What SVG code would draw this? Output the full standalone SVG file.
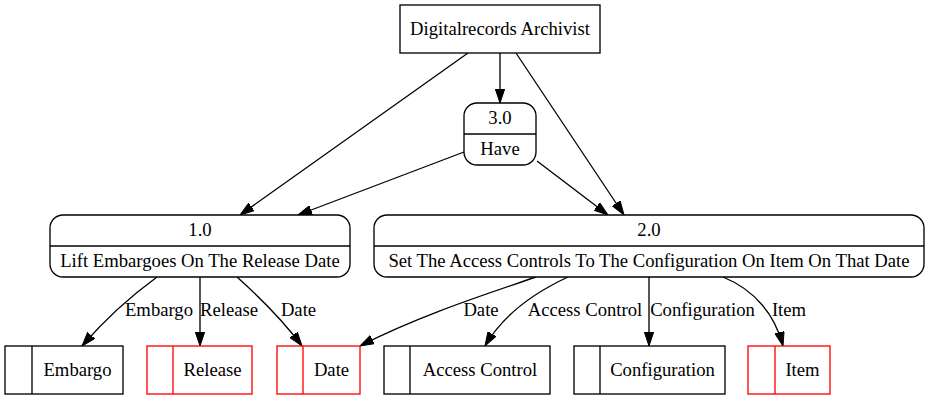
<svg xmlns="http://www.w3.org/2000/svg" width="930" height="400" viewBox="0 0 930 400">
<style>
text { font-family: "Liberation Serif", "Times New Roman", serif; font-size: 18.67px; text-anchor: middle; fill: #000; }
.n { fill: #fff; stroke: #000; stroke-width: 1.33; }
.r { fill: #fff; stroke: #ff0000; stroke-width: 1.33; }
.e { fill: none; stroke: #000; stroke-width: 1.33; marker-end: url(#arr); }
</style>
<defs>
<marker id="arr" markerUnits="userSpaceOnUse" viewBox="0 0 14 10" refX="14" refY="5" markerWidth="14" markerHeight="10" orient="auto">
<path d="M0,0.3 L14,5 L0,9.7 Z" fill="#000" stroke="#000" stroke-width="1"/>
</marker>
</defs>
<rect width="930" height="400" fill="#fff"/>
<g id="connectors">
<path class="e" d="M468,53 L240,215"/>
<path class="e" d="M500,53 L500,103"/>
<path class="e" d="M516,53 L624,215"/>
<path class="e" d="M464,152 L298,215"/>
<path class="e" d="M537,161 L608,215"/>
<path class="e" d="M157,277 C135,293 108,316 82,346"/>
<path class="e" d="M200,277 L200,346"/>
<path class="e" d="M237,277 C256,294 281,318 302,346"/>
<path class="e" d="M536,277 C490,293 420,315 360,346"/>
<path class="e" d="M568,277 C525,297 500,320 485,346"/>
<path class="e" d="M649,277 L649,346"/>
<path class="e" d="M723,277 C755,290 775,315 783,346"/>
<text x="159" y="316">Embargo</text>
<text x="229" y="316">Release</text>
<text x="298.5" y="316">Date</text>
<text x="481" y="316">Date</text>
<text x="585" y="316">Access Control</text>
<text x="702.5" y="316">Configuration</text>
<text x="789" y="316">Item</text>
</g>
<g id="archivist">
<rect class="n" x="400" y="5" width="200" height="48"/>
<text x="500" y="34.6">Digitalrecords Archivist</text>
</g>
<g id="p3">
<rect class="n" x="464" y="103" width="72" height="62" rx="13" ry="13"/>
<line class="n" x1="464" y1="134" x2="536" y2="134"/>
<text x="500" y="124">3.0</text>
<text x="500" y="155">Have</text>
</g>
<g id="p1">
<rect class="n" x="50" y="215" width="300" height="62" rx="13" ry="13"/>
<line class="n" x1="50" y1="246" x2="350" y2="246"/>
<text x="200" y="236">1.0</text>
<text x="200" y="266.5">Lift Embargoes On The Release Date</text>
</g>
<g id="p2">
<rect class="n" x="374" y="215" width="550" height="62" rx="13" ry="13"/>
<line class="n" x1="374" y1="246" x2="924" y2="246"/>
<text x="649" y="236">2.0</text>
<text x="649" y="266.5">Set The Access Controls To The Configuration On Item On That Date</text>
</g>
<g id="embargo">
<rect class="n" x="5" y="346" width="118" height="48"/>
<line class="n" x1="32" y1="346" x2="32" y2="394"/>
<text x="77.5" y="375.6">Embargo</text>
</g>
<g id="release">
<rect class="r" x="147" y="346" width="105" height="48"/>
<line class="r" x1="173" y1="346" x2="173" y2="394"/>
<text x="212.5" y="375.6">Release</text>
</g>
<g id="date">
<rect class="r" x="277" y="346" width="83" height="48"/>
<line class="r" x1="303" y1="346" x2="303" y2="394"/>
<text x="331.5" y="375.6">Date</text>
</g>
<g id="access-control">
<rect class="n" x="384" y="346" width="166" height="48"/>
<line class="n" x1="410" y1="346" x2="410" y2="394"/>
<text x="480" y="375.6">Access Control</text>
</g>
<g id="configuration">
<rect class="n" x="574" y="346" width="151" height="48"/>
<line class="n" x1="600" y1="346" x2="600" y2="394"/>
<text x="662.5" y="375.6">Configuration</text>
</g>
<g id="item">
<rect class="r" x="748" y="346" width="82" height="48"/>
<line class="r" x1="775" y1="346" x2="775" y2="394"/>
<text x="802.5" y="375.6">Item</text>
</g>
</svg>
